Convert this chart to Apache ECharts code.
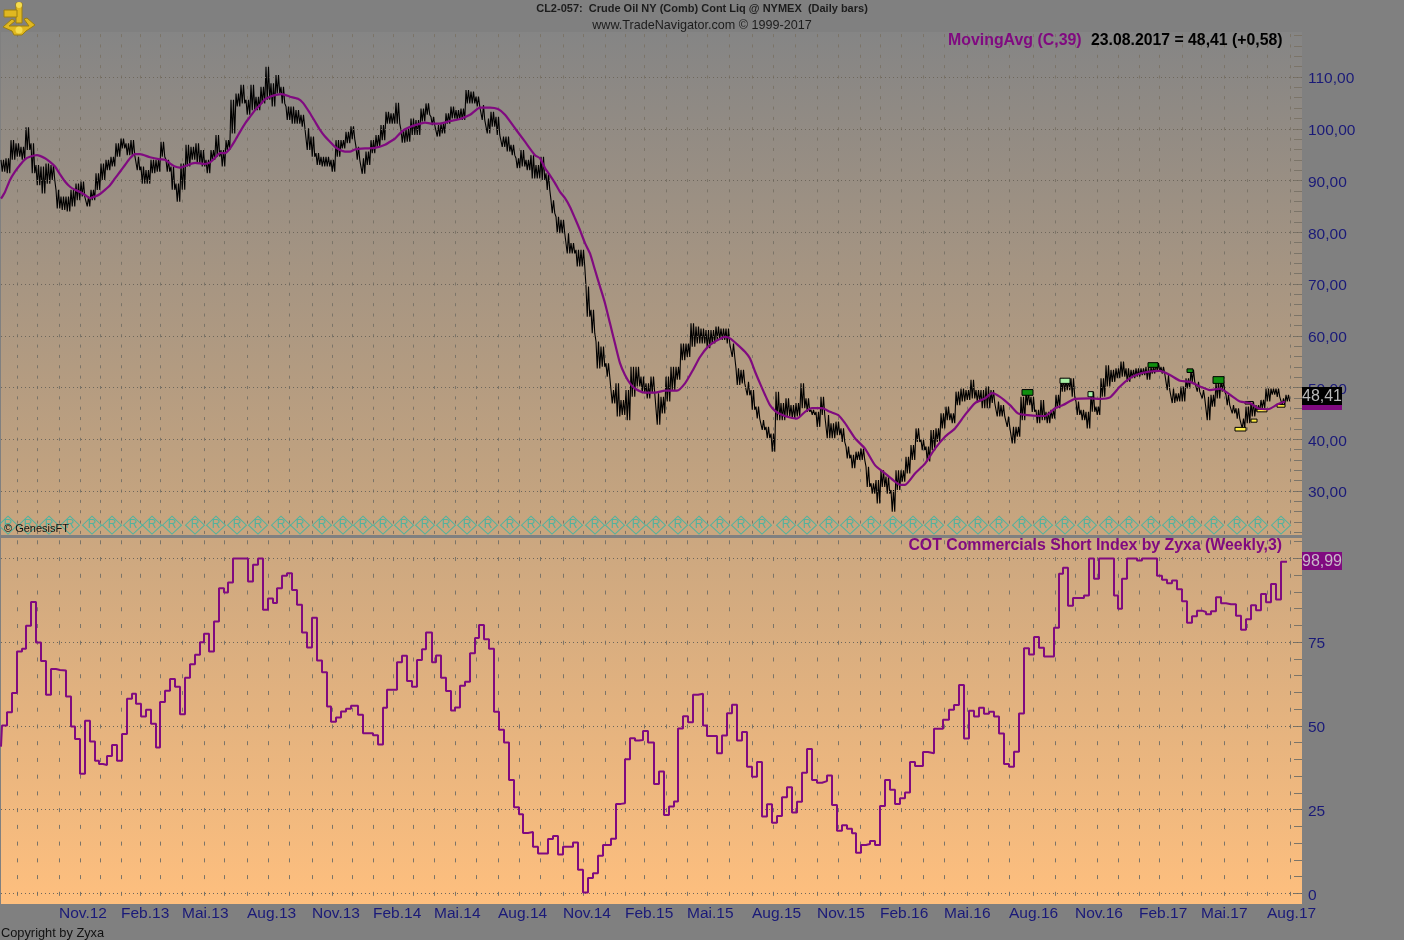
<!DOCTYPE html>
<html>
<head>
<meta charset="utf-8">
<style>
  html, body { margin: 0; padding: 0; background: #808080; }
  #chart { width: 1404px; height: 940px; }
</style>
<script src="https://cdn.jsdelivr.net/npm/echarts@6/dist/echarts.min.js"></script>
</head>
<body>
<div id="chart"></div>
<script>
// x axis is counted in trading days, one sample of the price band every 5 days
var priceHigh = [
  94.0,94.3,97.8,97.2,96.5,100.3,97.2,93.0,92.7,93.3,93.0,88.2,86.9,86.9,88.2,89.4,89.8,86.9,88.2,91.4,
  93.3,94.0,94.6,97.2,98.1,97.2,97.8,94.6,92.7,92.0,94.0,94.0,97.5,94.0,92.7,89.4,93.3,96.9,96.5,97.2,
  95.9,94.0,95.9,98.8,95.9,97.8,105.6,106.8,108.5,105.6,108.5,106.2,108.1,112.0,108.8,110.4,108.1,104.3,104.3,103.6,
  102.7,100.1,98.5,95.3,94.6,94.6,94.0,97.8,97.8,99.4,100.5,96.5,94.3,95.6,97.8,98.8,100.7,103.3,103.0,105.0,
  99.8,100.0,102.0,101.7,103.9,104.9,102.3,100.7,101.0,103.0,104.3,103.6,103.9,107.5,107.2,106.2,104.6,102.0,103.3,102.3,
  98.5,98.5,96.9,94.3,95.9,94.0,94.9,93.0,94.6,91.4,86.2,83.0,82.4,79.8,77.9,76.6,76.6,69.5,65.0,58.9,
  57.9,54.7,49.5,50.8,47.6,49.5,54.0,54.0,52.1,50.8,52.1,48.9,48.2,52.1,54.0,54.0,58.5,58.5,62.4,61.8,
  61.4,61.1,61.1,61.8,61.4,61.4,58.5,53.7,53.4,51.1,49.5,46.3,43.7,42.4,41.1,49.2,47.0,47.9,46.6,47.0,
  50.8,47.9,45.7,45.3,48.2,44.7,43.1,43.4,42.1,38.6,37.0,37.6,38.2,34.7,31.5,32.1,34.0,32.8,30.2,34.0,
  34.0,36.6,38.9,42.1,39.9,38.6,41.8,42.1,45.0,46.3,45.0,49.2,49.8,49.5,51.5,49.5,49.5,50.2,49.5,47.3,
  46.6,44.4,42.4,42.4,48.2,49.2,48.2,45.7,47.6,45.3,45.7,48.6,51.8,51.5,51.8,47.3,45.7,45.3,49.2,46.3,
  51.8,54.3,53.4,53.7,55.0,53.7,53.4,53.7,53.7,54.0,54.0,54.7,54.0,52.4,49.8,48.9,50.2,51.8,53.4,51.1,
  49.5,48.2,48.6,51.1,51.5,48.6,46.6,46.0,44.0,46.3,47.3,46.6,47.6,49.8,49.8,49.8,47.9,48.6
];
var priceLow = [
  91.7,91.4,94.0,94.6,94.0,95.9,91.4,89.1,87.5,89.4,90.1,84.6,84.3,84.0,85.0,86.2,86.9,85.0,86.2,88.2,
  90.1,92.0,92.7,94.6,96.2,94.9,94.9,92.0,89.4,89.4,91.4,91.7,94.6,91.7,88.2,85.9,88.2,92.7,94.0,93.3,
  92.7,91.4,94.0,94.6,92.7,95.9,99.1,104.3,104.9,102.7,103.6,103.6,104.9,105.6,104.3,106.8,104.9,101.7,101.0,101.0,
  100.4,95.9,94.6,93.0,92.7,92.7,91.7,94.6,96.2,97.2,98.0,94.0,91.3,93.0,95.3,96.5,97.8,101.0,101.0,101.0,
  97.3,97.5,98.8,98.8,101.4,102.7,100.7,98.5,99.1,101.0,102.0,101.7,101.7,104.9,104.9,104.3,101.7,99.1,100.4,98.8,
  96.5,95.6,94.9,92.4,92.7,92.0,90.4,90.4,90.1,88.2,83.7,79.8,79.8,75.9,75.9,73.4,73.4,63.7,60.5,53.7,
  54.0,52.1,46.9,44.4,44.7,43.7,48.2,50.2,48.9,47.9,48.9,42.8,45.0,47.3,49.5,51.5,55.3,55.9,57.9,58.5,
  58.5,57.6,58.5,59.2,59.2,58.5,55.9,50.5,50.8,48.5,45.7,44.0,41.8,40.2,37.6,43.7,43.7,44.4,44.0,44.4,
  46.0,45.3,44.7,42.4,44.7,40.2,40.2,40.8,39.5,36.3,34.4,36.0,36.0,30.8,29.5,27.6,30.8,29.5,26.0,30.2,
  31.8,33.4,36.0,39.5,37.9,35.7,37.9,39.5,42.1,43.7,43.1,46.6,47.3,47.6,47.9,47.3,46.0,46.0,47.0,44.4,
  44.4,42.4,39.2,40.5,43.7,46.6,45.3,43.1,43.7,43.1,44.0,46.0,49.2,49.5,48.2,44.7,43.7,42.1,45.3,44.7,
  48.2,50.2,51.1,51.8,52.1,51.1,51.8,52.1,52.4,51.5,52.7,53.1,52.7,49.5,47.0,47.3,47.3,49.8,51.1,49.2,
  47.9,43.7,46.3,47.9,49.2,46.6,45.0,44.0,42.1,43.1,44.4,45.3,46.0,47.3,48.6,48.2,46.6,47.3
];

// moving average, read at its bends
var maDays = [
  1,5,10,15,20,25,30,37,45,50,55,60,65,70,75,80,85,90,95,100,105,110,115,120,125,130,135,140,150,160,165,170,175,180,185,195,205,210,215,220,225,230,235,240,245,250,255,260,265,270,275,282,290,298,303,310,315,320,325,330,335,340,345,350,
  355,365,375,385,390,395,400,405,415,425,432,440,450,460,470,480,490,498,505,515,525,535,540,
  545,550,555,560,565,570,575,580,585,590,595,600,605,610,615,620,625,630,635,645,655,665,677,685,693,700,708,715,725,730,738,745,
  750,755,760,765,770,775,780,790,797,805,812,822,830,838,845,855,865,875,885,895,900,905,915,925,935,945,955,965,975,985,992,1000,1010,1018,1025,1040,1045,1055,1063,1075,1090,1100,1110,1120,1130,1140,
  1150,1160,1170,1180,1190,1200,1210,1220,1230,1240,1250,1258,1268,1278,1285
];
var maValues = [
  86.5,87.8,90.1,91.7,93.0,94.1,94.6,94.9,94.3,93.6,92.7,91.2,89.8,88.8,88.2,87.8,87.2,86.6,86.9,87.4,88.2,89.1,90.4,91.7,93.0,94.3,95.1,95.1,94.5,94.1,94.0,93.3,92.7,92.5,92.8,93.4,93.2,93.5,94.4,95.3,95.3,96.2,97.7,99.4,101.0,102.3,103.6,104.6,105.7,106.2,106.5,106.7,106.2,105.8,105.0,103.0,101.4,99.8,98.5,97.5,96.5,95.9,95.6,95.6,
  96.0,96.2,96.3,96.9,97.5,98.1,99.1,99.9,100.7,101.2,101.0,101.0,101.5,101.9,102.7,104.1,104.1,103.8,102.7,100.1,97.5,94.9,94.3,
  92.4,91.0,89.5,87.8,86.6,84.9,82.7,80.4,77.9,75.9,72.7,69.5,66.3,62.4,58.5,54.7,52.4,50.8,49.8,49.0,49.0,49.4,49.4,50.8,53.4,55.9,57.9,58.9,59.8,59.5,58.2,56.9,
  55.6,53.1,50.8,48.6,46.6,45.5,44.9,44.2,44.0,45.3,46.0,46.0,45.3,44.7,43.1,40.2,38.2,35.0,33.4,31.8,31.2,31.2,33.4,35.3,38.2,40.5,42.1,44.7,47.0,47.9,48.9,48.2,46.6,45.0,44.7,44.5,44.5,46.0,46.6,47.8,47.9,47.8,48.1,50.2,51.8,52.7,
  53.1,53.2,52.4,51.3,51.1,50.2,49.5,49.8,48.6,47.3,47.0,46.0,45.8,46.8,47.3
];

// weekly COT index, each value holds until the next report day
var cotDays = [
  1,2,7,12,17,22,26,31,36,41,46,51,56,60,66,71,75,80,85,90,95,99,103,107,112,117,122,127,132,136,141,146,151,156,160,165,170,175,180,185,190,195,200,204,209,214,219,224,228,233,238,243,248,253,258,263,268,273,277,282,287,292,297,302,307,312,317,322,327,331,336,341,346,351,354,358,363,368,373,378,383,387,392,397,402,407,412,417,422,426,
  432,436,441,446,451,455,460,465,470,475,479,484,489,494,499,504,509,514,519,523,528,533,538,543,548,553,558,563,568,573,578,583,588,593,598,603,607,611,616,621,625,630,635,639,643,648,654,659,664,669,674,678,683,688,693,698,703,707,712,717,722,727,732,737,742,747,752,757,762,767,772,777,782,787,792,797,802,807,812,817,822,827,832,837,842,847,852,856,
  861,866,870,875,880,885,890,895,900,905,910,915,919,923,928,934,939,943,949,954,959,964,969,974,979,984,989,994,999,1004,1009,1014,1019,1024,1029,1034,1039,1044,1049,1054,1059,1063,1068,1073,1079,1084,1089,1094,1099,1104,1109,1114,1118,1122,1127,1132,1137,1142,1147,1152,1157,1162,1167,1172,1177,1182,1187,1192,1197,1202,1206,1211,1216,1221,1226,1231,1236,1241,1246,1251,1256,1261,1266,1271,1276,1281,1287
];
var cotValues = [
  43.8,50.1,54.1,59.8,72.2,73.0,79.9,87.0,74.9,69.4,59.3,67.0,66.7,66.5,58.8,49.8,46.1,35.7,51.5,45.3,39.6,38.6,38.3,41.0,44.3,39.6,47.6,58.1,59.6,56.6,52.8,54.8,50.6,43.5,57.1,60.5,64.0,61.7,53.5,64.4,68.4,71.2,75.0,77.5,72.2,81.2,91.1,89.8,92.8,100,100,100,93.1,98.1,100,84.7,88.0,86.7,91.1,94.8,95.6,90.6,86.2,77.9,73.4,82.3,69.5,66.0,55.8,51.2,52.5,54.3,55.1,56.0,56.0,53.3,47.8,47.8,47.2,44.4,55.4,60.8,60.8,69.0,70.9,63.4,61.7,69.7,72.9,77.9,
  69.0,71.0,64.4,60.4,54.6,55.5,62.0,63.2,71.7,76.2,80.1,75.9,73.0,54.2,48.8,45.0,33.8,25.7,23.6,18.0,18.3,13.9,11.9,11.9,16.2,17.1,11.6,13.9,13.9,15.2,7.0,0.2,4.6,6.0,11.2,14.4,14.4,16.3,26.7,26.9,40.0,46.3,45.6,45.8,48.5,45.0,32.6,36.4,23.4,25.9,27.4,49.2,52.9,51.1,59.3,59.6,50.1,47.0,47.0,41.8,47.1,53.8,56.3,45.6,48.2,37.8,34.8,39.2,22.9,26.6,21.1,23.1,28.7,31.7,24.1,27.3,36.0,43.1,33.8,33.0,33.5,35.2,26.4,18.7,20.3,19.3,17.9,12.1,
  14.4,14.7,15.6,14.4,26.1,33.8,30.9,26.7,28.4,30.1,39.2,38.0,38.0,42.2,41.8,49.1,49.1,51.8,54.8,56.2,62.2,46.2,54.5,52.8,55.4,53.6,54.2,52.8,47.7,38.6,37.8,42.3,53.7,73.2,71.3,76.5,73.3,70.7,70.7,79.3,95.4,97.2,85.9,88.2,88.2,88.9,100,93.9,100,100,100,88.9,85.0,93.9,100,100,99.4,100,100,100,94.8,93.6,92.6,93.4,90.8,87.2,80.8,82.7,84.4,84.0,83.3,84.2,88.4,86.6,86.3,86.3,82.9,78.7,81.8,86.0,84.5,89.4,86.9,92.4,87.7,98.99,98.99
];

// month starts, in trading days
var monthDays = [17,37,59,80,100,121,140,160,182,204,224,247,268,289,312,332,352,373,393,413,434,455,476,498,519,540,563,583,605,625,644,666,687,707,729,752,773,795,817,838,860,880,901,923,944,967,988,1009,1033,1055,1075,1097,1118,1139,1159,1182,1201,1224,1247,1267,1290];
var quarterDays = [59,121,182,247,312,373,434,498,563,625,687,752,817,880,944,1009,1075,1139,1201,1267];
var quarterLabels = ['Nov.12','Feb.13','Mai.13','Aug.13','Nov.13','Feb.14','Mai.14','Aug.14','Nov.14','Feb.15','Mai.15','Aug.15','Nov.15','Feb.16','Mai.16','Aug.16','Nov.16','Feb.17','Mai.17','Aug.17'];

var priceLabels = [30,40,50,60,70,80,90,100,110];
var priceTicks = [22,24,26,28,30,32,34,36,38,40,42,44,46,48,50,52,54,56,58,60,62,64,66,68,70,72,74,76,78,80,82,84,86,88,90,92,94,96,98,100,102,104,106,108,110,112,114,116,118];
var cotLabels = [0,25,50,75];
var cotLines = [0,25,50,75,100];
var cotTicks = [0,5,10,15,20,25,30,35,40,45,50,55,60,65,70,75,80,85,90,95,100,105];

// rollover marks along the bottom of the price pane
var rollDays = [8,28,49,70,92,112,133,152,172,195,216,237,258,281,300,322,343,363,383,404,425,446,467,488,510,531,552,573,595,615,636,656,678,699,720,741,762,786,807,829,850,871,893,913,934,957,978,999,1022,1043,1065,1087,1109,1129,1151,1172,1192,1214,1237,1258,1281];

// swing boxes on the last part of the price line
var signalFrom   = [1022,1060,1088,1148,1187,1213,1235,1251,1257,1277,1245];
var signalTo     = [1033,1070,1093,1158,1193,1224,1246,1257,1267,1285,1253];
var signalTop    = [49.6,51.8,49.2,54.8,53.6,52.1,42.3,43.9,45.8,46.7,47.3];
var signalBottom = [48.5,50.8,48.2,53.9,52.9,50.8,41.6,43.3,45.3,46.2,46.8];
var signalFill   = ['#0f8f0f','#a5f0a5','#a5f0a5','#0f8f0f','#0f8f0f','#0f8f0f','#ffee44','#ffee44','#ffee44','#ffee44','#c8a67e'];

var dayMin = 1, dayMax = 1302;
var navy = '#1a1a78', purple = '#800a80', tickGray = '#7b7468';

function zip(xs, ys) {
  return xs.map(function (x, i) { return [x, ys[i]]; });
}

// high and low of each sample swung twice gives the dense daily band
var priceBand = [];
priceHigh.forEach(function (h, i) {
  var day = dayMin + i * 5;
  priceBand.push([day, h]);
  priceBand.push([day + 1.25, priceLow[i]]);
  priceBand.push([day + 2.5, h]);
  priceBand.push([day + 3.75, priceLow[i]]);
});

function xAxisFor(gridIndex, dash, offset, showLabels) {
  return {
    type: 'value', gridIndex: gridIndex, min: dayMin, max: dayMax,
    axisLine: { show: false },
    axisTick: { show: false, customValues: monthDays },
    splitLine: { show: true, lineStyle: { color: tickGray, width: 1, type: dash, dashOffset: offset } },
    axisLabel: {
      show: showLabels, customValues: quarterDays, align: 'left', margin: 2,
      color: navy, fontFamily: 'Liberation Sans', fontSize: 15.5,
      formatter: function (v) { return quarterLabels[quarterDays.indexOf(v)]; }
    }
  };
}

function yAxisFor(gridIndex, min, max, ticks, labels, formatter) {
  return {
    type: 'value', gridIndex: gridIndex, position: 'right', min: min, max: max,
    splitLine: { show: false },
    axisLine: { show: false },
    axisTick: { inside: true, length: 8, customValues: ticks, lineStyle: { color: tickGray } },
    axisLabel: {
      customValues: labels, margin: 6,
      formatter: function (v) { return '{a|' + formatter(v) + '}'; },
      rich: { a: { padding: [4, 0, 0, 0], color: navy, fontFamily: 'Liberation Sans', fontSize: 15.5 } }
    }
  };
}

function dottedLines(axisIndex, values) {
  return {
    type: 'line', xAxisIndex: axisIndex, yAxisIndex: axisIndex, data: [], z: 1, silent: true,
    markLine: {
      silent: true, symbol: 'none', animation: false, label: { show: false },
      lineStyle: { color: '#6e675c', width: 1, type: [1, 3] },
      data: values.map(function (v) { return { yAxis: v }; })
    }
  };
}

function textEl(text, x, y, size, color, bold, align) {
  return {
    type: 'text', x: x, y: y, z: 50,
    style: {
      text: text, fill: color, align: align || 'left', verticalAlign: 'middle',
      font: (bold ? 'bold ' : '') + size + 'px "Liberation Sans"'
    }
  };
}

function badge(x, y, h, bg, text, fg) {
  return [
    { type: 'rect', z: 49, shape: { x: x, y: y, width: 40, height: h }, style: { fill: bg } },
    textEl(text, x + 20, y + h / 2 + 1, 16, fg, false, 'center')
  ];
}

// sextant logo in the top left corner
var gold = '#e0b820', goldDark = '#9c7f10';
var logo = [
  { type: 'rect', z: 48, shape: { x: 16, y: 3, width: 6, height: 20 }, style: { fill: gold, stroke: goldDark } },
  { type: 'rect', z: 48, shape: { x: 4, y: 10, width: 13, height: 7 }, style: { fill: gold, stroke: goldDark } },
  { type: 'polygon', z: 48, shape: { points: [[3, 27], [12, 19], [15, 21], [9, 26], [29, 26], [24, 19], [27, 18], [35, 25], [26, 31], [22, 35], [14, 35], [12, 31]] }, style: { fill: gold, stroke: goldDark } },
  { type: 'circle', z: 49, shape: { cx: 19, cy: 30, r: 3.5 }, style: { fill: '#f5dc4e' } },
  { type: 'circle', z: 49, shape: { cx: 19, cy: 5, r: 3 }, style: { fill: '#f5dc4e' } }
];

var chart = echarts.init(document.getElementById('chart'));
chart.setOption({
  animation: false,
  backgroundColor: '#808080',
  grid: [
    {
      show: true, left: 1, top: 32, width: 1301, height: 503, borderWidth: 0,
      backgroundColor: new echarts.graphic.LinearGradient(0, 0, 0, 1, [
        { offset: 0, color: '#858585' }, { offset: 1, color: '#c9a67f' }
      ])
    },
    {
      show: true, left: 1, top: 538, width: 1301, height: 366, borderWidth: 0,
      backgroundColor: new echarts.graphic.LinearGradient(0, 0, 0, 1, [
        { offset: 0, color: '#cba780' }, { offset: 1, color: '#febf7e' }
      ])
    }
  ],
  xAxis: [
    xAxisFor(0, [3, 7.35], 8.25, false),
    xAxisFor(1, [4, 12.74], 14.44, true)
  ],
  yAxis: [
    yAxisFor(0, 21.5, 118.7, priceTicks, priceLabels, function (v) { return v.toFixed(2).replace('.', ','); }),
    yAxisFor(1, -3.2, 106.1, cotTicks, cotLabels, function (v) { return String(v); })
  ],
  series: [
    dottedLines(0, priceLabels),
    dottedLines(1, cotLines),
    {
      name: 'rollover', type: 'scatter', xAxisIndex: 0, yAxisIndex: 0, z: 3, silent: true,
      data: rollDays.map(function (d) { return [d, 23.4]; }),
      symbol: 'diamond', symbolSize: [19, 18],
      itemStyle: { color: 'rgba(0,0,0,0)', borderColor: '#35b5a5', borderWidth: 1 },
      label: { show: true, position: 'inside', formatter: 'R', color: '#35b5a5', fontFamily: 'Liberation Sans', fontSize: 12 }
    },
    {
      name: 'Crude Oil', type: 'line', xAxisIndex: 0, yAxisIndex: 0, z: 4, silent: true,
      data: priceBand, showSymbol: false, symbol: 'none', sampling: false,
      lineStyle: { color: '#000000', width: 1.1 }
    },
    {
      name: 'signals', type: 'custom', xAxisIndex: 0, yAxisIndex: 0, z: 5, silent: true,
      data: signalFrom.map(function (f, i) { return [f, signalTo[i], signalTop[i], signalBottom[i]]; }),
      renderItem: function (params, api) {
        var a = api.coord([api.value(0), api.value(2)]);
        var b = api.coord([api.value(1), api.value(3)]);
        return {
          type: 'rect',
          shape: { x: a[0], y: a[1], width: b[0] - a[0], height: b[1] - a[1] },
          style: { fill: signalFill[params.dataIndex], stroke: '#000000', lineWidth: 1 }
        };
      }
    },
    {
      name: 'MovingAvg (C,39)', type: 'line', xAxisIndex: 0, yAxisIndex: 0, z: 6, silent: true,
      data: zip(maDays, maValues), showSymbol: false, symbol: 'none', smooth: 0.2,
      lineStyle: { color: purple, width: 2.2 }
    },
    {
      name: 'COT Commercials Short Index', type: 'line', xAxisIndex: 1, yAxisIndex: 1, z: 6, silent: true,
      data: zip(cotDays, cotValues), showSymbol: false, symbol: 'none', step: 'end',
      lineStyle: { color: purple, width: 2 }
    }
  ],
  graphic: [].concat(logo, [
    textEl('CL2-057:  Crude Oil NY (Comb) Cont Liq @ NYMEX  (Daily bars)', 702, 9, 11, '#1c1c1c', true, 'center'),
    textEl('www.TradeNavigator.com © 1999-2017', 702, 25.5, 12.6, '#1c1c1c', false, 'center'),
    textEl('MovingAvg (C,39)', 948, 41, 15.9, purple, true),
    textEl('23.08.2017 = 48,41 (+0,58)', 1091, 41, 15.8, '#000000', true),
    textEl('COT Commercials Short Index by Zyxa (Weekly,3)', 1282, 546, 15.85, purple, true, 'right'),
    textEl('© GenesisFT', 4, 529, 11, '#111111', false),
    textEl('Copyright by Zyxa', 1, 933, 12.8, '#111111', false),
    { type: 'rect', z: 48, shape: { x: 1302, y: 405, width: 40, height: 5 }, style: { fill: purple } }
  ], badge(1302, 387, 18, '#000000', '48,41', '#b9b9b9'), badge(1302, 552, 18, purple, '98,99', '#c8b8c8'))
});
</script>
</body>
</html>
